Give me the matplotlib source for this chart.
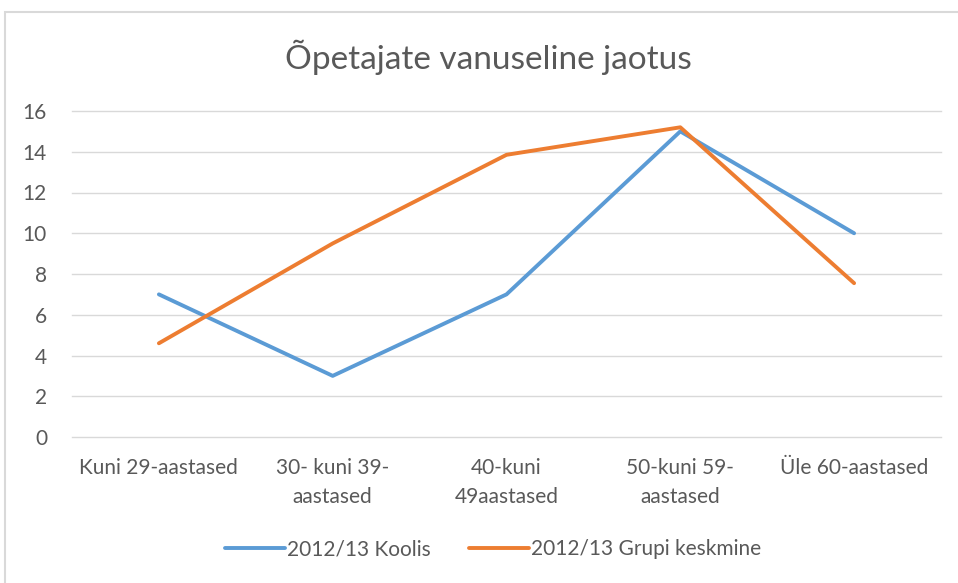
import matplotlib.pyplot as plt
from matplotlib.patches import Rectangle

categories = ['Kuni 29-aastased', '30- kuni 39-\naastased', '40-kuni\n49aastased',
              '50-kuni 59-\naastased', 'Üle 60-aastased']
koolis = [7, 3, 7, 15, 10]
grupi_keskmine = [4.6, 9.5, 13.85, 15.2, 7.55]
y_ticks = [0, 2, 4, 6, 8, 10, 12, 14, 16]

plt.rcParams['font.family'] = ['Lato', 'DejaVu Sans']

fig = plt.figure(figsize=(9.58, 5.83), dpi=100)
# chart frame (light grey border)
fig.patches.append(Rectangle((5 / 958, -0.1), 1.2, 1 - 12 / 583 + 0.1,
                             transform=fig.transFigure, fill=False,
                             edgecolor='#d9d9d9', linewidth=1.5))

ax = fig.add_axes([72 / 958, 1 - 437 / 583, (941 - 72) / 958, (437 - 111) / 583])
x = range(len(categories))
ax.plot(x, koolis, color='#5B9BD5', linewidth=2.8, solid_capstyle='round',
        label='2012/13 Koolis')
ax.plot(x, grupi_keskmine, color='#ED7D31', linewidth=2.8, solid_capstyle='round',
        label='2012/13 Grupi keskmine')

ax.set_xlim(-0.5, len(categories) - 0.5)
ax.set_ylim(0, 16)
ax.set_yticks(y_ticks)
ax.set_xticks(list(x))
ax.set_xticklabels(categories, linespacing=1.6)
ax.tick_params(axis='both', length=0, labelsize=15, labelcolor='#595959')
ax.tick_params(axis='y', pad=18)
ax.tick_params(axis='x', pad=15)
ax.grid(axis='y', color='#d9d9d9', linewidth=1)
for gl in ax.get_ygridlines():
    gl.set_clip_on(False)
ax.set_axisbelow(True)
for s in ax.spines.values():
    s.set_visible(False)

fig.text(488 / 958, 1 - 57 / 583, 'Õpetajate vanuseline jaotus', ha='center',
         va='center', fontsize=24, color='#595959')

fig.legend(loc='center', bbox_to_anchor=(493 / 958, 1 - 549 / 583), ncol=2,
           frameon=False, fontsize=15, labelcolor='#595959', handlelength=2.9,
           handletextpad=0.1, columnspacing=1.8)

plt.savefig('out.png', dpi=100)
